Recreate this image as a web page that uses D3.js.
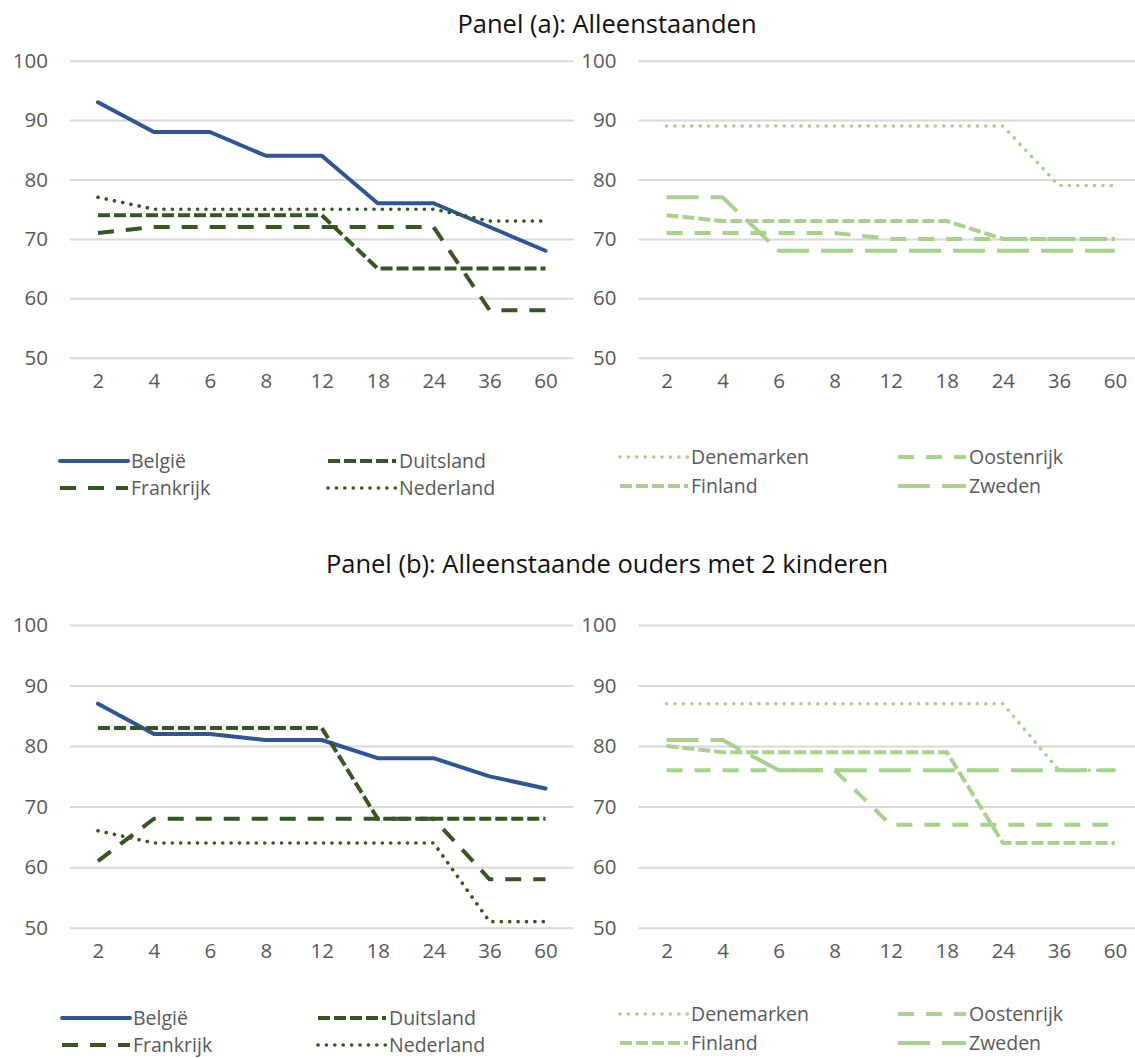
<!DOCTYPE html>
<html><head><meta charset="utf-8">
<script src="https://cdn.jsdelivr.net/npm/d3@7"></script>
<style>body{margin:0;background:#fff}svg{display:block}</style>
</head><body>
<script>
const categories = ["2","4","6","8","12","18","24","36","60"];
const yTicks = [50,60,70,80,90,100];
const panelTitles = ["Panel (a): Alleenstaanden","Panel (b): Alleenstaande ouders met 2 kinderen"];
const leftCountries = ["België","Duitsland","Frankrijk","Nederland"];
const rightCountries = ["Denemarken","Oostenrijk","Finland","Zweden"];
// Panel (a)
const aBelgie     = [93,88,88,84,84,76,76,72,68];
const aDuitsland  = [74,74,74,74,74,65,65,65,65];
const aFrankrijk  = [71,72,72,72,72,72,72,58,58];
const aNederland  = [77,75,75,75,75,75,75,73,73];
const aDenemarken = [89,89,89,89,89,89,89,79,79];
const aOostenrijk = [71,71,71,71,70,70,70,70,70];
const aFinland    = [74,73,73,73,73,73,70,70,70];
const aZweden     = [77,77,68,68,68,68,68,68,68];
// Panel (b)
const bBelgie     = [87,82,82,81,81,78,78,75,73];
const bDuitsland  = [83,83,83,83,83,68,68,68,68];
const bFrankrijk  = [61,68,68,68,68,68,68,58,58];
const bNederland  = [66,64,64,64,64,64,64,51,51];
const bDenemarken = [87,87,87,87,87,87,87,76,76];
const bOostenrijk = [76,76,76,76,67,67,67,67,67];
const bFinland    = [80,79,79,79,79,79,64,64,64];
const bZweden     = [81,81,76,76,76,76,76,76,76];

const styles = {
  "België":     {color:"#2f5597", dash:null,      w:4,   cap:"round"},
  "Duitsland":  {color:"#375623", dash:"12,4",    w:4,   cap:"butt"},
  "Frankrijk":  {color:"#375623", dash:"16,12",   w:4,   cap:"butt"},
  "Nederland":  {color:"#375623", dash:"0.1,8.3", w:3.6, cap:"round"},
  "Denemarken": {color:"#a9d18e", dash:"0.1,8.3", w:3.6, cap:"round"},
  "Oostenrijk": {color:"#a9d18e", dash:"16,12",   w:4,   cap:"butt"},
  "Finland":    {color:"#a9d18e", dash:"12,4",    w:4,   cap:"butt"},
  "Zweden":     {color:"#a9d18e", dash:"32,12",   w:4,   cap:"butt"}
};

const panels = [
  {title:panelTitles[0], titleY:33, yTop:60.7, yBot:357.7,
   left:[aBelgie,aDuitsland,aFrankrijk,aNederland],
   right:[aDenemarken,aOostenrijk,aFinland,aZweden],
   legL:{x1:60, x2:328, rows:[461,488]}, legR:{x1:620, x2:898, rows:[457,486]}},
  {title:panelTitles[1], titleY:573, yTop:625, yBot:927.7,
   left:[bBelgie,bDuitsland,bFrankrijk,bNederland],
   right:[bDenemarken,bOostenrijk,bFinland,bZweden],
   legL:{x1:62, x2:318, rows:[1018,1045]}, legR:{x1:620, x2:898, rows:[1014,1043]}}
];

const FONT = "'Open Sans', sans-serif";
const svg = d3.select("body").append("svg").attr("width",1135).attr("height",1058)
  .style("font-family",FONT);

const plots = [{x0:70, x1:573.5}, {x0:638.5, x1:1143}];

panels.forEach(p => {
  svg.append("text").attr("x",607).attr("y",p.titleY).attr("text-anchor","middle")
    .attr("font-size",25.5).attr("fill","#111").text(p.title);
  const y = d3.scaleLinear().domain([50,100]).range([p.yBot,p.yTop]);
  [[p.left,leftCountries,p.legL],[p.right,rightCountries,p.legR]].forEach(([series,names,leg],k)=>{
    const pl = plots[k];
    const x = d3.scalePoint().domain(categories).range([pl.x0,pl.x1]).padding(0.5);
    const g = svg.append("g");
    const ya = g.append("g").attr("transform",`translate(${pl.x0},0)`)
      .call(d3.axisLeft(y).tickValues(yTicks).tickSize(-(pl.x1-pl.x0)).tickPadding(22));
    ya.select(".domain").remove();
    ya.selectAll("line").attr("stroke","#d9d9d9").attr("stroke-width",2);
    ya.selectAll("text").attr("fill","#595959").attr("font-size",20.5).attr("font-family",FONT);
    const xa = g.append("g").attr("transform",`translate(0,${p.yBot})`)
      .call(d3.axisBottom(x).tickSize(0).tickPadding(16));
    xa.select(".domain").remove();
    xa.selectAll("text").attr("fill","#595959").attr("font-size",20.5).attr("font-family",FONT);
    const line = d3.line().x((d,i)=>x(categories[i])).y(d=>y(d));
    series.forEach((vals,i)=>{
      const s = styles[names[i]];
      g.append("path").datum(vals).attr("d",line).attr("fill","none")
        .attr("stroke",s.color).attr("stroke-width",s.w)
        .attr("stroke-dasharray",s.dash).attr("stroke-linecap",s.cap)
        .attr("stroke-linejoin","round");
    });
    names.forEach((n,i)=>{
      const s = styles[n];
      const lx = i%2===0 ? leg.x1 : leg.x2;
      const ly = leg.rows[Math.floor(i/2)];
      svg.append("line").attr("x1",lx).attr("x2",lx+68).attr("y1",ly).attr("y2",ly)
        .attr("stroke",s.color).attr("stroke-width",s.w)
        .attr("stroke-dasharray",s.dash).attr("stroke-linecap",s.cap);
      svg.append("text").attr("x",lx+71).attr("y",ly).attr("dy","0.35em")
        .attr("font-size",19.5).attr("fill","#595959").text(n);
    });
  });
});
</script>
</body></html>
